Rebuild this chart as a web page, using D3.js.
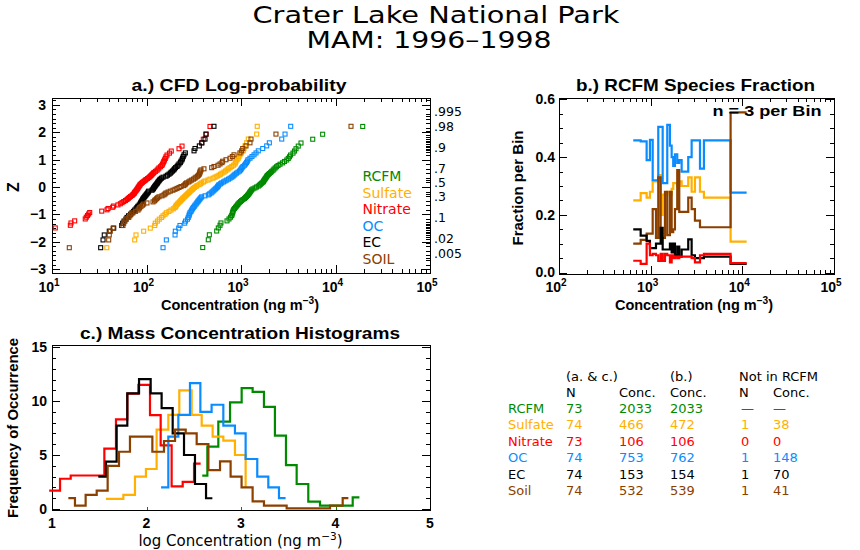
<!DOCTYPE html>
<html><head><meta charset="utf-8">
<script src="https://cdn.jsdelivr.net/npm/d3@7"></script>
<style>body{margin:0;background:#fff}svg{display:block}</style>
</head><body><svg id="c" width="860" height="550"></svg>
<script>
// ---------------- DATA ----------------
// Panel a: sorted log10 concentrations (ng m-3) per species
const rcfmLog = [2.595,2.654,2.665,2.743,2.760,2.778,2.788,2.852,2.873,2.889,2.902,2.907,2.912,2.915,2.921,2.931,2.942,2.952,2.963,2.971,2.982,2.995,3.007,3.021,3.037,3.048,3.058,3.069,3.077,3.085,3.092,3.098,3.106,3.113,3.127,3.148,3.164,3.183,3.196,3.206,3.217,3.230,3.238,3.243,3.251,3.257,3.265,3.272,3.278,3.289,3.300,3.314,3.325,3.339,3.349,3.362,3.376,3.392,3.413,3.439,3.460,3.484,3.500,3.513,3.524,3.550,3.566,3.582,3.606,3.635,3.759,3.864,4.288];
const sulfateLog = [1.580,1.875,1.889,1.970,2.040,2.087,2.093,2.116,2.135,2.160,2.175,2.196,2.210,2.238,2.259,2.284,2.302,2.310,2.315,2.328,2.337,2.351,2.360,2.370,2.381,2.389,2.402,2.413,2.423,2.434,2.444,2.455,2.463,2.476,2.487,2.495,2.508,2.524,2.534,2.556,2.571,2.584,2.603,2.619,2.651,2.672,2.704,2.725,2.746,2.767,2.783,2.799,2.820,2.836,2.852,2.866,2.884,2.902,2.921,2.937,2.942,2.947,2.958,2.971,2.979,2.989,3.005,3.024,3.032,3.042,3.060,3.077,3.166,3.172];
const nitrateLog = [0.78,0.85,0.90,0.95,1.035,1.194,1.201,1.240,1.352,1.363,1.376,1.388,1.399,1.526,1.582,1.593,1.642,1.651,1.698,1.723,1.741,1.759,1.778,1.794,1.806,1.818,1.831,1.847,1.857,1.868,1.873,1.881,1.889,1.897,1.903,1.910,1.915,1.923,1.929,1.935,1.947,1.958,1.971,1.984,1.995,2.011,2.026,2.037,2.048,2.058,2.069,2.079,2.095,2.111,2.122,2.132,2.148,2.162,2.169,2.177,2.183,2.190,2.199,2.206,2.217,2.243,2.262,2.344,2.376,2.582,2.601,2.630,2.672];
const ocLog = [2.175,2.210,2.302,2.305,2.341,2.354,2.404,2.413,2.434,2.442,2.450,2.453,2.460,2.471,2.478,2.487,2.495,2.505,2.513,2.524,2.532,2.542,2.548,2.558,2.566,2.575,2.584,2.619,2.654,2.667,2.683,2.693,2.704,2.714,2.725,2.735,2.746,2.754,2.760,2.767,2.783,2.796,2.815,2.831,2.849,2.868,2.884,2.902,2.915,2.926,2.937,2.952,2.968,2.984,2.995,3.003,3.011,3.021,3.037,3.048,3.058,3.067,3.074,3.095,3.116,3.138,3.159,3.183,3.230,3.272,3.300,3.431,3.466,3.526];
const ecLog = [1.515,1.540,1.553,1.606,1.653,1.738,1.748,1.762,1.783,1.794,1.810,1.831,1.847,1.862,1.875,1.889,1.899,1.908,1.921,1.931,1.937,1.944,1.950,1.958,1.963,1.970,1.979,1.987,1.995,2.002,2.011,2.018,2.023,2.058,2.067,2.074,2.079,2.087,2.093,2.101,2.109,2.116,2.122,2.130,2.138,2.146,2.159,2.175,2.206,2.222,2.238,2.252,2.262,2.275,2.288,2.296,2.307,2.323,2.333,2.344,2.358,2.365,2.376,2.381,2.389,2.397,2.411,2.503,2.513,2.559,2.587,2.619,2.630,2.714];
const soilLog = [1.183,1.600,1.606,1.617,1.646,1.751,1.759,1.772,1.783,1.812,1.825,1.836,1.857,1.884,1.910,1.921,1.928,1.942,1.958,1.970,2.005,2.069,2.085,2.093,2.106,2.116,2.132,2.164,2.185,2.196,2.206,2.228,2.252,2.280,2.302,2.323,2.344,2.365,2.394,2.407,2.413,2.425,2.447,2.460,2.478,2.497,2.513,2.524,2.540,2.550,2.559,2.563,2.566,2.569,2.577,2.608,2.690,2.714,2.757,2.778,2.799,2.806,2.841,2.884,2.908,2.926,2.989,3.007,3.018,3.053,3.095,3.106,3.370,4.164];

const legendNames = ["RCFM","Sulfate","Nitrate","OC","EC","SOIL"];
const probLabels = [".995",".98",".9",".7",".5",".3",".1",".02",".005"];
const probValues = [0.995,0.98,0.9,0.7,0.5,0.3,0.1,0.02,0.005];

// Panel b: bin edges (log10 conc) and species fraction per bin
const fracBinEdges = [2.810,2.891,2.956,2.992,3.022,3.058,3.083,3.109,3.131,3.156,3.181,3.210,3.229,3.246,3.265,3.290,3.312,3.338,3.356,3.410,3.447,3.483,3.538,3.581,3.872,4.047];
const fracOC = [0.458,0.455,0.39,0.46,0.32,0.32,0.505,0.505,0.31,0.31,0.512,0.44,0.40,0.37,0.41,0.38,0.39,0.35,0.35,0.40,0.458,0.458,0.36,0.458,0.277];
const fracSulfate = [0.25,0.275,0.26,0.28,0.316,0.316,0.338,0.20,0.27,0.27,0.28,0.27,0.29,0.31,0.31,0.30,0.316,0.30,0.30,0.33,0.28,0.33,0.28,0.26,0.107];
const fracSoil = [0.10,0.113,0.135,0.135,0.22,0.12,0.33,0.12,0.12,0.28,0.13,0.28,0.14,0.15,0.22,0.355,0.21,0.21,0.21,0.26,0.22,0.18,0.157,0.157,0.555];
const fracEC = [0.15,0.128,0.11,0.085,0.085,0.10,0.10,0.155,0.08,0.08,0.08,0.10,0.07,0.10,0.06,0.09,0.055,0.08,0.08,0.115,0.06,0.05,0.05,0.055,0.03];
const fracNitrate = [0.041,0.03,0.10,0.06,0.065,0.06,0.04,0.065,0.04,0.065,0.06,0.035,0.06,0.05,0.055,0.05,0.055,0.055,0.055,0.055,0.05,0.035,0.06,0.065,0.033];

// Panel c: histogram step edges (log10 conc) and frequencies
const histEdgesRCFM = [2.59,2.644,2.760,2.884,3.007,3.123,3.243,3.359,3.476,3.589,3.712,3.836,4.182,4.253];
const histFreqRCFM = [3.09,5.77,8.1,9.88,11.2,10.86,9.47,6.79,4.07,2.31,0.68,0.31,1.08];
const histEdgesSulfate = [1.571,1.755,1.878,1.994,2.107,2.231,2.347,2.478,2.584,2.700,2.813,2.936,3.049,3.049];
const histFreqSulfate = [0.93,1.3,3.0,3.7,7.35,8.73,11.0,8.73,7.72,6.7,6.33,5.0,2.0];
const histEdgesNitrate = [0.97,1.085,1.198,1.554,1.677,1.797,1.914,2.037,2.150,2.266,2.383,2.503,2.573];
const histFreqNitrate = [1.7,2.8,3.1,5.6,8.3,10.7,11.5,8.7,5.9,2.1,2.5,4.2];
const histEdgesOC = [2.154,2.231,2.337,2.460,2.570,2.689,2.813,2.936,3.049,3.172,3.289,3.402,3.472];
const histFreqOC = [2.0,6.7,8.73,11.67,9.0,9.66,7.72,7.0,4.63,3.0,2.0,1.0];
const histEdgesEC = [1.49,1.571,1.684,1.797,1.921,2.044,2.16,2.277,2.397,2.513,2.63,2.697];
const histFreqEC = [3.0,4.38,7.72,10.71,12.04,10.71,9.35,7.0,5.0,2.31,0.99];
const histEdgesSoil = [1.173,1.243,1.356,1.473,1.589,1.709,1.825,2.062,2.185,2.302,2.415,2.531,2.655,2.778,2.890,3.006,3.123,3.243,3.483,3.942,4.076,4.136];
const histFreqSoil = [1.0,0.3,1.3,1.7,4.0,5.3,6.7,5.3,6.3,7.35,7.0,6.0,3.6,4.4,3.0,2.0,0.7,0.3,0.05,0.3,1.0];

// Table
const tableHeader1 = ["(a. & c.)","(b.)","Not in RCFM"];
const tableHeader2 = ["N","Conc.","Conc.","N","Conc."];
const tableSpecies = ["RCFM","Sulfate","Nitrate","OC","EC","Soil"];
const tableN = ["73","74","73","74","74","74"];
const tableConcAC = ["2033","466","106","753","153","532"];
const tableConcB = ["2033","472","106","762","154","539"];
const tableNotN = ["\u2014","1","0","1","1","1"];
const tableNotConc = ["\u2014","38","0","148","70","41"];

// ---------------- STYLE ----------------
const COL = {RCFM:"#008a00", Sulfate:"#ffb000", Nitrate:"#ff0000", OC:"#0a8cff", EC:"#000000", Soil:"#8b4000"};
const speciesOrder = ["RCFM","Sulfate","Nitrate","OC","EC","Soil"];
const FN = "'DejaVu Sans', sans-serif";
const FB = "'Liberation Sans', Arial, sans-serif";

// ---------------- HELPERS ----------------
function probit(p){
  const a=[-3.969683028665376e+01,2.209460984245205e+02,-2.759285104469687e+02,1.383577518672690e+02,-3.066479806614716e+01,2.506628277459239e+00];
  const b=[-5.447609879822406e+01,1.615858368580409e+02,-1.556989798598866e+02,6.680131188771972e+01,-1.328068155288572e+01];
  const c=[-7.784894002430293e-03,-3.223964580411365e-01,-2.400758277161838e+00,-2.549732539343734e+00,4.374664141464968e+00,2.938163982698783e+00];
  const d=[7.784695709041462e-03,3.224671290700398e-01,2.445134137142996e+00,3.754408661907416e+00];
  const pl=0.02425;let q,r;
  if(p<pl){q=Math.sqrt(-2*Math.log(p));return (((((c[0]*q+c[1])*q+c[2])*q+c[3])*q+c[4])*q+c[5])/((((d[0]*q+d[1])*q+d[2])*q+d[3])*q+1);}
  if(p<=1-pl){q=p-0.5;r=q*q;return (((((a[0]*r+a[1])*r+a[2])*r+a[3])*r+a[4])*r+a[5])*q/(((((b[0]*r+b[1])*r+b[2])*r+b[3])*r+b[4])*r+1);}
  q=Math.sqrt(-2*Math.log(1-p));return -(((((c[0]*q+c[1])*q+c[2])*q+c[3])*q+c[4])*q+c[5])/((((d[0]*q+d[1])*q+d[2])*q+d[3])*q+1);
}
const svg=d3.select("#c");
svg.append("rect").attr("width",860).attr("height",550).attr("fill","#fff");
const axG=svg.append("g").attr("stroke","#000").attr("stroke-width",1).attr("shape-rendering","crispEdges");
function ln(x1,y1,x2,y2,g){(g||axG).append("line").attr("x1",x1).attr("y1",y1).attr("x2",x2).attr("y2",y2);}
function frame(xs,ys){
  const [x0,x1]=xs.range(),[y0,y1]=ys.range();
  axG.append("rect").attr("x",Math.min(x0,x1)+0.5).attr("y",Math.min(y0,y1)+0.5)
    .attr("width",Math.abs(x1-x0)).attr("height",Math.abs(y1-y0)).attr("fill","none");
}
function xT(xs,ys,vals,len){
  const [yb,yt]=ys.range();
  vals.forEach(v=>{const x=Math.round(xs(v))+0.5;ln(x,yb,x,yb-len);ln(x,yt,x,yt+len);});
}
function yT(xs,ys,vals,len,sides){
  const [xl,xr]=xs.range();
  vals.forEach(v=>{const y=Math.round(ys(v))+0.5;
    if(sides!=="r")ln(xl,y,xl+len,y);
    if(sides!=="l")ln(xr,y,xr-len,y);});
}
function logMinor(lo,hi){const r=[];for(let e=lo;e<hi;e++)for(let m=2;m<=9;m++)r.push(m*Math.pow(10,e));return r;}
function txt(x,y,s,o){
  o=o||{};
  const t=svg.append("text").attr("x",x).attr("y",y).attr("font-family",o.bold?FB:FN)
    .attr("font-weight",o.bold?"bold":"normal").attr("font-size",o.size||14)
    .attr("fill",o.color||"#000").attr("text-anchor",o.anchor||"start");
  if(o.len)t.attr("textLength",o.len).attr("lengthAdjust","spacingAndGlyphs");
  if(o.rot)t.attr("transform",`rotate(-90,${x},${y})`);
  if(o.mid)t.attr("dy","0.35em");
  t.text(s);return t;
}
function logLabel(x,y,e){
  const t=svg.append("text").attr("x",x).attr("y",y).attr("font-family",FB).attr("font-weight","bold")
    .attr("font-size",14).attr("text-anchor","middle");
  t.append("tspan").text("10");
  t.append("tspan").attr("dy",-6).attr("font-size",10).text(e);
}
function unitLabel(x,y,prefix,o){
  const t=svg.append("text").attr("x",x).attr("y",y).attr("font-family",o.bold?FB:FN)
    .attr("font-weight",o.bold?"bold":"normal").attr("font-size",o.size).attr("text-anchor","middle");
  t.append("tspan").text(prefix+" (ng m");
  t.append("tspan").attr("dy",-6).attr("font-size",o.size*0.7).text("\u22123");
  t.append("tspan").attr("dy",6).text(")");
}

// ---------------- TITLE ----------------
txt(436,22.5,"Crater Lake National Park",{size:22.5,anchor:"middle",len:367});
txt(429,48,"MAM: 1996\u20131998",{size:22.5,anchor:"middle",len:245});

// ---------------- PANEL A ----------------
const xA=d3.scaleLog().domain([10,1e5]).range([52,430]);
const yA=d3.scaleLinear().domain([-3.14,3.25]).range([273,98]);
frame(xA,yA);
xT(xA,yA,[10,100,1000,1e4,1e5],8);
xT(xA,yA,logMinor(1,5),4);
const zMaj=[-3,-2,-1,0,1,2,3];
const zMin=[];for(let k=-19;k<=19;k++){if(k%6!==0)zMin.push(k/6);}
yT(xA,yA,zMaj,8);
yT(xA,yA,zMin.filter(v=>v>-3.14&&v<3.25),4);
const pTicks=[];for(let k=1;k<=9;k++)pTicks.push(k/100);for(let k=1;k<=9;k++)pTicks.push(k/10);for(let k=91;k<=99;k++)pTicks.push(k/100);pTicks.push(0.005,0.995);
yT(xA,yA,pTicks.map(probit),4,"r");
[1,2,3,4,5].forEach(e=>logLabel(xA(Math.pow(10,e))-3,291.5,String(e)));
zMaj.forEach(v=>txt(46,yA(v),v<0?"\u2212"+Math.abs(v):String(v),{bold:true,anchor:"end",mid:true}));
probLabels.forEach((s,i)=>txt(434,yA(probit(probValues[i])),s,{size:12.5}));
txt(239,91,"a.) CFD Log-probability",{bold:true,size:17,anchor:"middle",len:215});
unitLabel(240,310,"Concentration",{bold:true,size:14.5});
txt(13,187,"Z",{bold:true,size:16,anchor:"middle",rot:true,mid:true});
legendNames.forEach((s,i)=>txt(362.5,181+i*16.6,s,{size:14,color:COL[speciesOrder[i]]}));

svg.append("clipPath").attr("id","clipA").append("rect").attr("x",50).attr("y",96).attr("width",382).attr("height",179);
const ptsG=svg.append("g").attr("clip-path","url(#clipA)");
const seriesA={RCFM:rcfmLog,Sulfate:sulfateLog,Nitrate:nitrateLog,OC:ocLog,EC:ecLog,Soil:soilLog};
speciesOrder.forEach(sp=>{
  const arr=seriesA[sp],N=arr.length;
  ptsG.selectAll(null).data(arr).enter().append("rect")
    .attr("x",(v)=>xA(Math.pow(10,v))-2).attr("y",(v,i)=>yA(probit((i+1)/(N+1)))-2)
    .attr("width",4).attr("height",4).attr("fill","none").attr("stroke",COL[sp]).attr("stroke-width",1.1);
});

// ---------------- PANEL B ----------------
const xB=d3.scaleLog().domain([100,1e5]).range([559,834]);
const yB=d3.scaleLinear().domain([-0.005,0.605]).range([274,98]);
frame(xB,yB);
xT(xB,yB,[100,1000,1e4,1e5],8);
xT(xB,yB,logMinor(2,5),4);
yT(xB,yB,[0,0.2,0.4,0.6],8);
yT(xB,yB,[0.05,0.1,0.15,0.25,0.3,0.35,0.45,0.5,0.55],4);
[2,3,4,5].forEach(e=>logLabel(xB(Math.pow(10,e))-3,291.5,String(e)));
[0,0.2,0.4,0.6].forEach(v=>txt(555,yB(v),v.toFixed(1),{bold:true,anchor:"end",mid:true}));
txt(695.5,91,"b.) RCFM Species Fraction",{bold:true,size:17,anchor:"middle",len:239});
unitLabel(694,310,"Concentration",{bold:true,size:14.5});
txt(518,188,"Fraction per Bin",{bold:true,size:15,anchor:"middle",rot:true,mid:true,len:115});
const stepB=d3.line().curve(d3.curveStepAfter).x(d=>xB(Math.pow(10,d[0]))).y(d=>yB(d[1]));
const seriesB=[["Sulfate",fracSulfate],["OC",fracOC],["Soil",fracSoil],["EC",fracEC],["Nitrate",fracNitrate]];
seriesB.forEach(([sp,vals])=>{
  const pts=vals.map((v,i)=>[fracBinEdges[i],v]);pts.push([fracBinEdges[vals.length],vals[vals.length-1]]);
  svg.append("path").attr("d",stepB(pts)).attr("fill","none").attr("stroke",COL[sp]).attr("stroke-width",2.2);
});
txt(767,116,"n = 3 per Bin",{bold:true,size:15,anchor:"middle",len:109});

// ---------------- PANEL C ----------------
const xC=d3.scaleLinear().domain([1,5]).range([52,430]);
const yC=d3.scaleLinear().domain([-0.1,15.2]).range([510,345]);
frame(xC,yC);
yT(xC,yC,[0,5,10,15],8);
yT(xC,yC,d3.range(1,15).filter(v=>v%5!==0),4);
[1,2,3,4,5].forEach(v=>txt(xC(v),528,String(v),{bold:true,anchor:"middle"}));
[0,5,10,15].forEach(v=>txt(47,yC(v),String(v),{bold:true,anchor:"end",mid:true}));
txt(240,339,"c.) Mass Concentration Histograms",{bold:true,size:17,anchor:"middle",len:320});
unitLabel(240.5,546,"log Concentration",{bold:false,size:15});
txt(12.5,428,"Frequency of Occurrence",{bold:true,size:15,anchor:"middle",rot:true,mid:true,len:180});
const gTick=svg.append("g").attr("stroke",COL.RCFM).attr("stroke-width",1.2).attr("shape-rendering","crispEdges");
[2,3,4].forEach(v=>ln(Math.round(xC(v))+0.5,510,Math.round(xC(v))+0.5,507,gTick));
const stepC=d3.line().curve(d3.curveStepAfter).x(d=>xC(d[0])).y(d=>yC(d[1]));
const seriesC=[["RCFM",histEdgesRCFM,histFreqRCFM],["Sulfate",histEdgesSulfate,histFreqSulfate],["Nitrate",histEdgesNitrate,histFreqNitrate],["OC",histEdgesOC,histFreqOC],["EC",histEdgesEC,histFreqEC],["Soil",histEdgesSoil,histFreqSoil]];
seriesC.forEach(([sp,ed,fr])=>{
  const pts=fr.map((v,i)=>[ed[i],v]);pts.push([ed[fr.length],fr[fr.length-1]]);
  svg.append("path").attr("d",stepC(pts)).attr("fill","none").attr("stroke",COL[sp]).attr("stroke-width",2.2);
});

// ---------------- TABLE ----------------
const colX=[566,619,670,739,773];
const TS=13;
txt(colX[0],380.5,tableHeader1[0],{size:TS});txt(colX[2],380.5,tableHeader1[1],{size:TS});txt(colX[3],380.5,tableHeader1[2],{size:TS});
tableHeader2.forEach((s,i)=>txt(colX[i],396.5,s,{size:TS}));
tableSpecies.forEach((sp,r)=>{
  const y=412.5+r*16.5,c=COL[speciesOrder[r]];
  txt(508,y,sp,{color:c,size:TS});
  [tableN[r],tableConcAC[r],tableConcB[r],tableNotN[r],tableNotConc[r]].forEach((s,i)=>
    txt(colX[i]+((i===3)?2:0),y,s,{color:c,size:TS}));
});
</script></body></html>
